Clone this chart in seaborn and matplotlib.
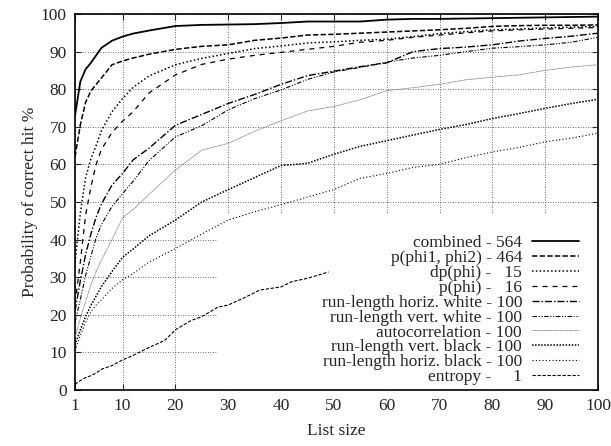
import numpy as np
import pandas as pd
import matplotlib
matplotlib.use("Agg")
import matplotlib.pyplot as plt
import seaborn as sns
from matplotlib.patches import Rectangle

# list sizes at which the curves were read
list_size = [1, 2, 3, 4, 5, 6, 8, 10, 12, 15, 20, 25, 30, 35, 40, 45, 50,
             55, 60, 65, 70, 75, 80, 85, 90, 95, 100]

combined = [73, 82, 85.3, 87, 89, 91, 92.9, 94, 94.8, 95.6, 96.8, 97.1, 97.2, 97.3,
            97.6, 98, 98, 98, 98.5, 98.7, 98.7, 98.8, 98.9, 99, 99.1, 99.2, 99.3]
p_phi12 = [62, 70.5, 76.5, 79.5, 81.3, 83, 86.5, 87.5, 88.3, 89.3, 90.6, 91.4, 91.8, 93,
           93.6, 94.4, 94.6, 94.9, 95.2, 95.5, 95.8, 96.2, 96.7, 96.9, 97, 97, 97.1]
dp_phi = [34, 47, 56.5, 61.5, 65, 69, 74, 77.5, 80.5, 83.5, 86.5, 88.2, 89.5, 90.8,
          91.5, 92.3, 92.6, 93, 93.3, 94, 94.8, 95.3, 95.8, 96, 96.3, 96.5, 96.7]
p_phi = [23, 34, 46.5, 54, 60, 64, 68.5, 71.5, 74, 79, 83.8, 86.6, 88, 89,
         89.8, 90.6, 91.4, 92.5, 93, 93.8, 94.4, 95, 95.5, 95.8, 96, 96.2, 96.4]
rl_horiz_white = [21, 29, 36, 41.5, 46, 49.5, 54.5, 57.6, 61.2, 64.3, 70.4, 73.3, 76.2, 78.6,
                  81.3, 83.6, 84.8, 86, 87, 90, 90.8, 91.2, 91.8, 92.8, 93.5, 94.1, 94.9]
rl_vert_white = [18, 24, 30.5, 35.5, 40.5, 44, 48.8, 52.2, 55.5, 61, 67.3, 70.3, 74.5, 77.5,
                 79.8, 82.6, 84.6, 85.8, 87.2, 88.3, 89, 90, 90.9, 91.3, 91.8, 92.5, 93.8]
autocorr = [14, 19, 23.5, 28, 31.5, 34.5, 40, 45.8, 48, 52, 58.5, 63.8, 65.6, 68.8,
            71.6, 74.2, 75.4, 77.2, 79.6, 80.4, 81.3, 82.5, 83.2, 83.8, 85, 85.9, 86.5]
rl_vert_black = [12, 16, 19.5, 22.5, 25, 27.5, 31.5, 35.3, 37.5, 41, 45.2, 50, 53.3, 56.5,
                 59.7, 60.3, 62.7, 64.8, 66.3, 67.8, 69.3, 70.6, 72.2, 73.5, 74.9, 76.2, 77.3]
rl_horiz_black = [10.5, 14.5, 18, 20.8, 22.6, 24, 27, 29.3, 31, 34, 37.6, 41.5, 45.2, 47.4,
                  49.3, 51.3, 53.3, 56.3, 57.6, 59.2, 60, 61.8, 63.3, 64.5, 66, 67, 68.3]

entropy_size = [1, 2, 3, 4, 5, 6, 8, 10, 12, 15, 18, 20, 23, 25, 28, 30, 33, 36, 40, 42, 45, 49]
entropy = [1.5, 2.5, 3.3, 3.8, 4.5, 5.5, 6.5, 8, 9.2, 11.3, 13.2, 16, 18.5, 19.5, 22, 22.6,
           24.5, 26.6, 27.4, 28.8, 29.7, 31.4]

labels = ["combined - 564", "p(phi1, phi2) - 464", "dp(phi) -   15", "p(phi) -   16",
          "run-length horiz. white - 100", "run-length vert. white - 100",
          "autocorrelation - 100", "run-length vert. black - 100",
          "run-length horiz. black - 100", "entropy -     1"]

series = [(list_size, combined), (list_size, p_phi12), (list_size, dp_phi), (list_size, p_phi),
          (list_size, rl_horiz_white), (list_size, rl_vert_white), (list_size, autocorr),
          (list_size, rl_vert_black), (list_size, rl_horiz_black), (entropy_size, entropy)]

styles = [
    dict(ls="-", lw=1.3, color="black"),
    dict(ls=(0, (3.5, 1.5)), lw=1.1, color="black"),
    dict(ls=(0, (1, 1.5)), lw=1.1, color="black"),
    dict(ls=(0, (4, 4)), lw=0.9, color="black"),
    dict(ls=(0, (5, 1.5, 1, 1.5)), lw=1.0, color="black"),
    dict(ls=(0, (4, 1.5, 1, 1.5, 1, 1.5)), lw=0.8, color="black"),
    dict(ls=(0, (1, 0.5)), lw=0.6, color="0.45"),
    dict(ls=(0, (1, 1)), lw=1.1, color="black"),
    dict(ls=(0, (1, 2)), lw=0.8, color="black"),
    dict(ls=(0, (3, 1.5)), lw=0.8, color="black"),
]

FS = 12.5

sns.set_style("ticks")
plt.rcParams["font.family"] = ["Liberation Serif"]
plt.rcParams["font.size"] = FS

fig = plt.figure(figsize=(6.11, 4.46), dpi=100)
ax = fig.add_axes([0.1228, 0.1256, 0.8559, 0.843])

for (xs, ys), lab, st in zip(series, labels, styles):
    df = pd.DataFrame({"size": xs, "prob": ys})
    sns.lineplot(data=df, x="size", y="prob", ax=ax, label=lab, estimator=None,
                 sort=True, zorder=3, **st)

ax.set_xlim(1, 100)
ax.set_ylim(0, 100)
ax.set_xticks([1, 10, 20, 30, 40, 50, 60, 70, 80, 90, 100])
ax.set_yticks(np.arange(0, 101, 10))
ax.set_axisbelow(True)
ax.grid(True, color="0.25", ls=(0, (1, 2)), lw=0.6)
ax.tick_params(direction="in", length=4, width=0.8, top=True, right=True,
               labelsize=FS, pad=6)
for sp in ax.spines.values():
    sp.set_linewidth(1.2)
    sp.set_color("black")

# opaque key area
ax.add_patch(Rectangle((0.273, 0), 0.727, 0.471, transform=ax.transAxes,
                       facecolor="white", edgecolor="none", zorder=1))

ax.set_xlabel("List size", fontsize=FS, labelpad=6)
ax.set_ylabel("Probability of correct hit %", fontsize=FS, labelpad=2)

leg = ax.legend(loc="lower right", bbox_to_anchor=(0.9875, -0.02), frameon=False,
                markerfirst=False, fontsize=FS, labelspacing=-0.07,
                handlelength=2.7, handletextpad=0.6, borderpad=0.2)
for vp in leg._legend_handle_box.get_children():
    vp.align = "right"

fig.savefig("out.png", dpi=100)
